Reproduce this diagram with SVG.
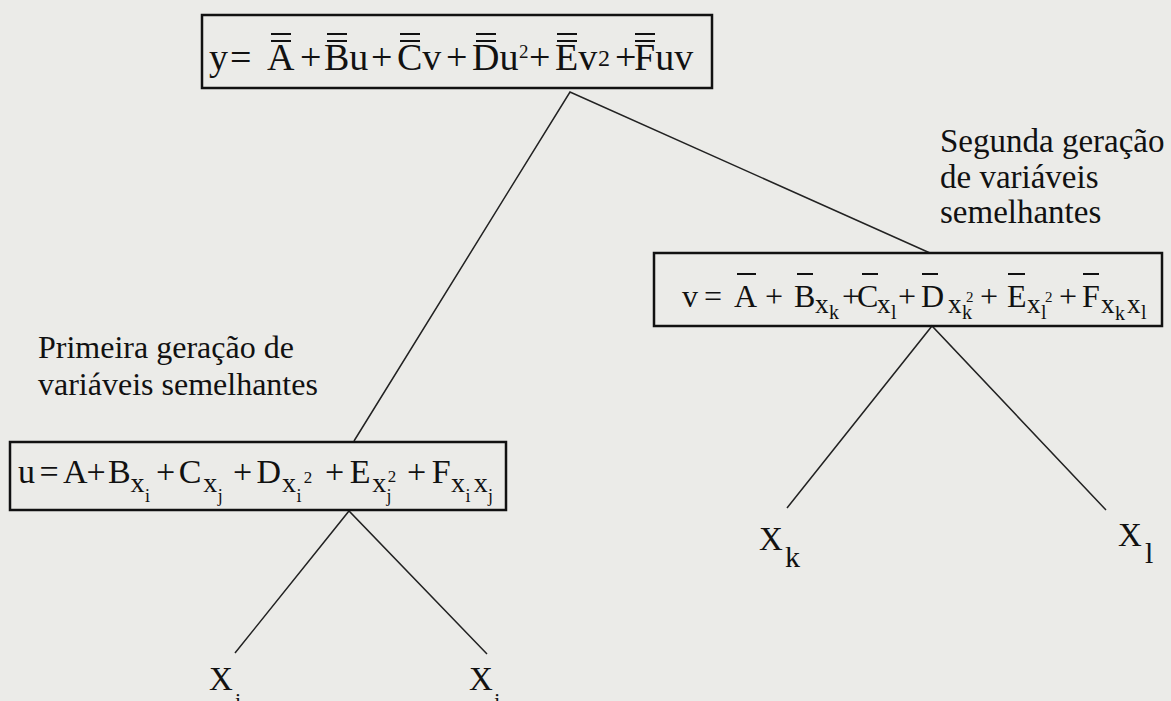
<svg xmlns="http://www.w3.org/2000/svg" width="1171" height="701" viewBox="0 0 1171 701">
<style>
.f{font-family:"Liberation Serif","Times New Roman",serif;fill:#111}
.box{fill:none;stroke:#111;stroke-width:2.5}
.ln{stroke:#222;stroke-width:1.5;fill:none}
.bar{stroke:#111;stroke-width:2}
</style>
<rect x="0" y="0" width="1171" height="701" fill="#ebebe8"/>
<g id="connectors">
<polyline class="ln" points="354,441 570,92 930,253"/>
<polyline class="ln" points="787,508 932,326 1106,510"/>
<polyline class="ln" points="235,653 349,511 487,654"/>
</g>
<g id="node-top">
<rect class="box" x="202" y="15" width="510" height="73"/>
<text class="f" font-size="38" y="70"><tspan x="209">y</tspan><tspan x="230">=</tspan><tspan x="267">A</tspan><tspan x="300">+</tspan><tspan x="324">Bu</tspan><tspan x="371">+</tspan><tspan x="397">Cv</tspan><tspan x="446">+</tspan><tspan x="472">Du</tspan><tspan x="519" y="58" font-size="19">2</tspan><tspan x="529" y="70">+</tspan><tspan x="555">Ev</tspan><tspan x="598" y="66" font-size="24">2</tspan><tspan x="615" y="70">+</tspan><tspan x="634">Fuv</tspan></text>
<path class="bar" d="M271 34h20M271 41h20M327 34h20M327 41h20M400 34h20M400 41h20M476 34h20M476 41h20M557 34h20M557 41h20M635 34h20M635 41h20"/>
</g>
<g id="node-v">
<rect class="box" x="654" y="253" width="508" height="73"/>
<text class="f" font-size="32" y="307"><tspan x="682">v</tspan><tspan x="704">=</tspan><tspan x="734">A</tspan><tspan x="765">+</tspan><tspan x="794">B</tspan><tspan x="815" y="313" font-size="27">x</tspan><tspan x="829" y="319" font-size="20">k</tspan><tspan x="842" y="307">+</tspan><tspan x="857">C</tspan><tspan x="877" y="313" font-size="27">x</tspan><tspan x="891" y="319" font-size="20">l</tspan><tspan x="898" y="307">+</tspan><tspan x="921">D</tspan><tspan x="948" y="313" font-size="27">x</tspan><tspan x="962" y="319" font-size="20">k</tspan><tspan x="966" y="302" font-size="15">2</tspan><tspan x="980" y="307">+</tspan><tspan x="1007">E</tspan><tspan x="1027" y="313" font-size="27">x</tspan><tspan x="1041" y="319" font-size="20">l</tspan><tspan x="1045" y="302" font-size="15">2</tspan><tspan x="1059" y="307">+</tspan><tspan x="1082">F</tspan><tspan x="1101" y="313" font-size="27">x</tspan><tspan x="1115" y="320" font-size="20">k</tspan><tspan x="1127" y="313" font-size="27">x</tspan><tspan x="1141" y="319" font-size="20">l</tspan></text>
<path class="bar" d="M737 274h19M797 274h16M862 274h16M922 274h16M1008 274h17M1083 274h16"/>
</g>
<g id="node-u">
<rect class="box" x="10" y="442" width="496" height="68"/>
<text class="f" font-size="34" y="483"><tspan x="18">u</tspan><tspan x="39.5">=</tspan><tspan x="63">A</tspan><tspan x="86.6">+</tspan><tspan x="108">B</tspan><tspan x="130.6" y="492" font-size="28">x</tspan><tspan x="145" y="502" font-size="18">i</tspan><tspan x="156" y="483">+</tspan><tspan x="178.8">C</tspan><tspan x="203.3" y="492" font-size="28">x</tspan><tspan x="217.7" y="502" font-size="18">j</tspan><tspan x="233" y="483">+</tspan><tspan x="256.6">D</tspan><tspan x="282" y="492" font-size="28">x</tspan><tspan x="296.5" y="502" font-size="18">i</tspan><tspan x="303.7" y="483" font-size="17">2</tspan><tspan x="325">+</tspan><tspan x="349.8">E</tspan><tspan x="372.3" y="492" font-size="28">x</tspan><tspan x="386.6" y="502" font-size="18">j</tspan><tspan x="387.7" y="482" font-size="17">2</tspan><tspan x="407" y="483">+</tspan><tspan x="431.7">F</tspan><tspan x="451" y="492" font-size="28">x</tspan><tspan x="465.5" y="502" font-size="18">i</tspan><tspan x="473.7" y="492" font-size="28">x</tspan><tspan x="488" y="502" font-size="18">j</tspan></text>
</g>
<g id="label-primeira">
<text class="f" font-size="32" x="38" y="358">Primeira geração de</text>
<text class="f" font-size="32" x="38" y="395">variáveis semelhantes</text>
</g>
<g id="label-segunda">
<text class="f" font-size="33" x="940" y="152">Segunda geração</text>
<text class="f" font-size="33" x="940" y="188">de variáveis</text>
<text class="f" font-size="33" x="940" y="223">semelhantes</text>
</g>
<g id="node-xi"><text class="f" font-size="33" y="690"><tspan x="209">X</tspan><tspan x="235" y="708" font-size="22">i</tspan></text></g>
<g id="node-xj"><text class="f" font-size="33" y="690"><tspan x="469">X</tspan><tspan x="494" y="708" font-size="22">j</tspan></text></g>
<g id="node-xk"><text class="f" font-size="33" y="550"><tspan x="759">X</tspan><tspan x="785" y="567" font-size="30">k</tspan></text></g>
<g id="node-xl"><text class="f" font-size="33" y="546"><tspan x="1118">X</tspan><tspan x="1145" y="563" font-size="30">l</tspan></text></g>
</svg>
